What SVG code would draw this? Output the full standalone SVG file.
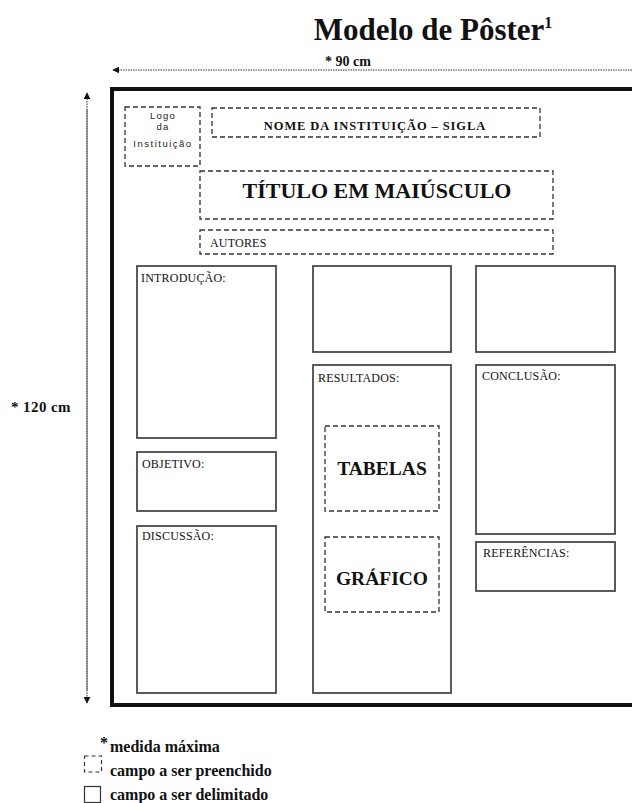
<svg xmlns="http://www.w3.org/2000/svg" width="632" height="803" viewBox="0 0 632 803">
<style>
.serif{font-family:"Liberation Serif","DejaVu Serif",serif;fill:#111}
.sans{font-family:"Liberation Sans","DejaVu Sans",sans-serif;fill:#222}
.dash{fill:none;stroke:#333;stroke-width:1.3;stroke-dasharray:5,3}
.box{fill:#fff;stroke:#4a4a4a;stroke-width:1.8}
.lbl{font-family:"Liberation Serif","DejaVu Serif",serif;font-size:12px;fill:#111;letter-spacing:0.2px}
.dim{stroke:#333;stroke-width:1;stroke-dasharray:1.5,1;fill:none}
.leg{font-family:"Liberation Serif","DejaVu Serif",serif;font-size:16px;font-weight:bold;fill:#111}
</style>
<defs>
<marker id="ah" viewBox="0 0 10 10" refX="9" refY="5" markerWidth="7" markerHeight="7" orient="auto" markerUnits="userSpaceOnUse">
<path d="M0,0 L10,5 L0,10 z" fill="#111"/>
</marker>
</defs>
<rect width="632" height="803" fill="#fff"/>
<text class="serif" x="433" y="40" font-size="31" font-weight="bold" text-anchor="middle">Modelo de Pôster<tspan font-size="16" dy="-12">1</tspan></text>
<g id="connectors">
<line class="dim" x1="632" y1="70" x2="113" y2="70" marker-end="url(#ah)"/>
<line class="dim" x1="87" y1="690" x2="87" y2="93" marker-end="url(#ah)"/>
<line class="dim" x1="87" y1="110" x2="87" y2="703" marker-end="url(#ah)"/>
</g>
<text class="serif" x="348" y="66" font-size="14" font-weight="bold" text-anchor="middle">* 90 cm</text>
<text class="serif" x="41" y="412" font-size="15" font-weight="bold" text-anchor="middle" letter-spacing="0.4">* 120 cm</text>
<g id="poster">
<path d="M634,89 L112,89 L112,705 L634,705" fill="none" stroke="#111" stroke-width="4"/>
</g>
<g id="logo">
<rect class="dash" x="125" y="107" width="75" height="59"/>
<text class="sans" x="163" y="119" font-size="9.5" letter-spacing="1.2" text-anchor="middle">Logo</text>
<text class="sans" x="163" y="130" font-size="9.5" letter-spacing="1.2" text-anchor="middle">da</text>
<text class="sans" x="163" y="147" font-size="9.5" letter-spacing="1.5" text-anchor="middle">Instituição</text>
</g>
<g id="nome">
<rect class="dash" x="212" y="108" width="328" height="29"/>
<text class="serif" x="375" y="130" font-size="12.5" font-weight="bold" letter-spacing="0.9" text-anchor="middle">NOME DA INSTITUIÇÃO – SIGLA</text>
</g>
<g id="titulo">
<rect class="dash" x="200" y="171" width="353" height="48"/>
<text class="serif" x="377" y="198" font-size="22" font-weight="bold" text-anchor="middle" fill="#222">TÍTULO EM MAIÚSCULO</text>
</g>
<g id="autores">
<rect class="dash" x="200" y="230" width="353" height="24"/>
<text class="lbl" x="210" y="247" letter-spacing="0.8">AUTORES</text>
</g>
<g id="introducao">
<rect class="box" x="137" y="266" width="139" height="172"/>
<text class="lbl" x="141" y="282">INTRODUÇÃO:</text>
</g>
<g id="box-meio">
<rect class="box" x="313" y="266" width="138" height="86"/>
</g>
<g id="box-direita">
<rect class="box" x="476" y="266" width="139" height="86"/>
</g>
<g id="resultados">
<rect class="box" x="313" y="365" width="138" height="328"/>
<text class="lbl" x="318" y="382">RESULTADOS:</text>
</g>
<g id="tabelas">
<rect class="dash" x="325" y="426" width="114" height="85"/>
<text class="serif" x="382" y="475" font-size="19.5" font-weight="bold" text-anchor="middle" fill="#222">TABELAS</text>
</g>
<g id="grafico">
<rect class="dash" x="325" y="537" width="114" height="75"/>
<text class="serif" x="382" y="585" font-size="19.5" font-weight="bold" text-anchor="middle" fill="#222">GRÁFICO</text>
</g>
<g id="conclusao">
<rect class="box" x="476" y="365" width="139" height="169"/>
<text class="lbl" x="482" y="380">CONCLUSÃO:</text>
</g>
<g id="objetivo">
<rect class="box" x="137" y="452" width="139" height="59"/>
<text class="lbl" x="142" y="468">OBJETIVO:</text>
</g>
<g id="discussao">
<rect class="box" x="137" y="526" width="139" height="167"/>
<text class="lbl" x="142" y="540">DISCUSSÃO:</text>
</g>
<g id="referencias">
<rect class="box" x="476" y="542" width="139" height="49"/>
<text class="lbl" x="483" y="557">REFERÊNCIAS:</text>
</g>
<g id="legenda">
<text class="leg" x="100" y="748" font-size="12">*</text>
<text class="leg" x="110" y="752">medida máxima</text>
<rect x="84.5" y="756" width="17" height="16" fill="none" stroke="#333" stroke-width="1.2" stroke-dasharray="4,3"/>
<text class="leg" x="110" y="776">campo a ser preenchido</text>
<rect x="84.5" y="786.5" width="16" height="16" fill="none" stroke="#333" stroke-width="1.2"/>
<text class="leg" x="110" y="800">campo a ser delimitado</text>
</g>
</svg>
